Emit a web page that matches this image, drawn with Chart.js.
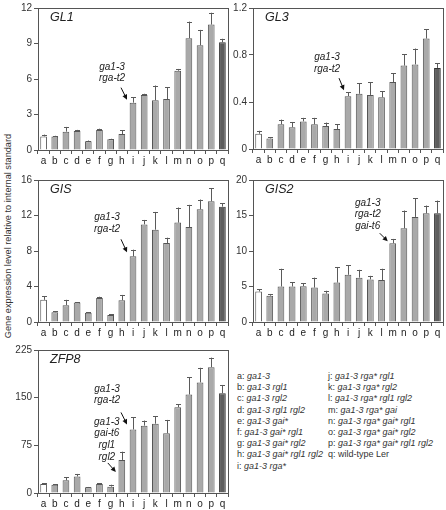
<!DOCTYPE html>
<html>
<head>
<meta charset="utf-8">
<script src="https://cdn.jsdelivr.net/npm/chart.js@4.4.1/dist/chart.umd.min.js"></script>
<style>
  body { margin: 0; background: #fff; width: 446px; height: 510px; position: relative; overflow: hidden;
         font-family: Arial, "Liberation Sans", sans-serif; }
  .panel { position: absolute; }
  #ytitle { position: absolute; left: 8px; top: 236px; width: 300px; margin-left: -150px; text-align: center;
            transform: translateY(-50%) rotate(-90deg); font-size: 9.2px; color: #333; white-space: nowrap; }
  .legend { position: absolute; font-size: 9px; line-height: 11.2px; color: #333; white-space: nowrap; }
  .legend i { font-style: italic; }
</style>
</head>
<body>

<div id="ytitle">Gene expression level relative to internal standard</div>

<div class="panel" style="left:15px;top:0px;width:217px;height:166px"><canvas id="gl1"></canvas></div>
<div class="panel" style="left:230px;top:0px;width:216px;height:165px"><canvas id="gl3"></canvas></div>
<div class="panel" style="left:15px;top:172px;width:217px;height:166px"><canvas id="gis"></canvas></div>
<div class="panel" style="left:230px;top:172px;width:216px;height:166px"><canvas id="gis2"></canvas></div>
<div class="panel" style="left:15px;top:342px;width:217px;height:167px"><canvas id="zfp8"></canvas></div>

<div class="legend" id="legend1" style="left:237px;top:371px"></div>
<div class="legend" id="legend2" style="left:328px;top:371px"></div>

<script>
// categories (genotypes a..q)
const categories = ['a','b','c','d','e','f','g','h','i','j','k','l','m','n','o','p','q'];

// GL1
const gl1Values = [1.15, 1.15, 1.55, 1.6, 0.75, 1.7, 0.9, 1.35, 4.0, 4.65, 4.2, 4.3, 6.7, 9.45, 8.85, 10.6, 9.1];
const gl1Errors = [0.15, 0.05, 0.4, 0.1, 0.05, 0.1, 0.05, 0.3, 0.45, 0.1, 1.25, 1.0, 0.15, 1.4, 1.3, 1.0, 0.3];
const gl1Ticks = [0, 3, 6, 9, 12];

// GL3
const gl3Values = [0.13, 0.09, 0.21, 0.185, 0.235, 0.21, 0.195, 0.17, 0.45, 0.47, 0.46, 0.44, 0.57, 0.71, 0.72, 0.94, 0.69];
const gl3Errors = [0.025, 0.01, 0.04, 0.045, 0.03, 0.055, 0.03, 0.04, 0.035, 0.09, 0.11, 0.05, 0.075, 0.095, 0.135, 0.08, 0.04];
const gl3Ticks = [0, 0.4, 0.8, 1.2];

// GIS
const gisValues = [2.5, 1.1, 1.9, 2.2, 1.05, 2.7, 0.8, 2.45, 7.4, 11.0, 10.4, 8.9, 11.2, 10.7, 12.7, 13.6, 13.0];
const gisErrors = [0.4, 0.1, 0.6, 0.05, 0.05, 0.15, 0.05, 0.6, 0.75, 0.5, 2.0, 0.6, 1.7, 2.5, 1.1, 1.5, 0.4];
const gisTicks = [0, 4, 8, 12, 16];

// GIS2
const gis2Values = [4.3, 3.7, 5.0, 5.0, 5.05, 4.85, 4.0, 5.55, 6.65, 6.25, 6.0, 5.9, 11.1, 13.2, 14.8, 15.3, 15.3];
const gis2Errors = [0.3, 0.25, 2.5, 0.6, 0.4, 1.4, 0.4, 2.2, 1.35, 1.1, 0.5, 1.6, 0.6, 2.5, 2.6, 1.1, 1.8];
const gis2Ticks = [0, 5, 10, 15, 20];

// ZFP8
const zfp8Values = [14, 13, 20, 26, 9, 14, 10, 52, 100, 106, 109, 94, 135, 155, 174, 198, 157];
const zfp8Errors = [1.5, 1, 5, 4, 0.5, 1.5, 3, 13, 19, 8, 12, 21, 5, 27, 23, 15, 13];
const zfp8Ticks = [0, 75, 150, 225];

// genotype legend
const legendLeft = [
  ['a', 'ga1-3'], ['b', 'ga1-3 rgl1'], ['c', 'ga1-3 rgl2'], ['d', 'ga1-3 rgl1 rgl2'], ['e', 'ga1-3 gai*'],
  ['f', 'ga1-3 gai* rgl1'], ['g', 'ga1-3 gai* rgl2'], ['h', 'ga1-3 gai* rgl1 rgl2'], ['i', 'ga1-3 rga*']
];
const legendRight = [
  ['j', 'ga1-3 rga* rgl1'], ['k', 'ga1-3 rga* rgl2'], ['l', 'ga1-3 rga* rgl1 rgl2'], ['m', 'ga1-3 rga* gai'],
  ['n', 'ga1-3 rga* gai* rgl1'], ['o', 'ga1-3 rga* gai* rgl2'], ['p', 'ga1-3 rga* gai* rgl1 rgl2'], ['q', null]
];

function fillLegend(id, rows) {
  const el = document.getElementById(id);
  el.innerHTML = rows.map(r => r[1] ? `${r[0]}: <i>${r[1]}</i>` : `${r[0]}: wild-type Ler`).join('<br>');
}
fillLegend('legend1', legendLeft);
fillLegend('legend2', legendRight);

// bar colours: a = white, b..p = light grey, q = dark grey
const fillColors = categories.map((c, i) => i === 0 ? '#ffffff' : (i === categories.length - 1 ? '#5e5e5e' : '#a9a9a9'));
const borderColors = categories.map((c, i) => i === categories.length - 1 ? '#333' : '#555');

// error bars (upward only) + frame + panel title + arrows
const extrasPlugin = {
  id: 'extras',
  afterDatasetsDraw(chart) {
    const ctx = chart.ctx;
    const cfg = chart.options.plugins.extras;
    const x = chart.scales.x, y = chart.scales.y;
    const meta = chart.getDatasetMeta(0);
    const vals = chart.data.datasets[0].data;
    ctx.save();
    ctx.strokeStyle = '#5a5a5a';
    ctx.lineWidth = 1;
    meta.data.forEach((bar, i) => {
      const top = y.getPixelForValue(vals[i] + cfg.errors[i]);
      const bx = Math.round(bar.x) + 0.5;
      ctx.beginPath();
      ctx.moveTo(bx, bar.y);
      ctx.lineTo(bx, top);
      ctx.moveTo(bx - 2.5, Math.round(top) + 0.5);
      ctx.lineTo(bx + 2.5, Math.round(top) + 0.5);
      ctx.stroke();
    });

    // frame
    const a = chart.chartArea;
    ctx.strokeStyle = '#555';
    ctx.strokeRect(Math.round(a.left) + 0.5, Math.round(a.top) + 0.5, Math.round(a.right - a.left), Math.round(a.bottom - a.top));

    // title
    ctx.fillStyle = '#222';
    ctx.font = 'italic 12.5px Arial, "Liberation Sans", sans-serif';
    ctx.textAlign = 'left';
    ctx.textBaseline = 'middle';
    ctx.fillText(cfg.title, a.left + 12, a.top + 10);

    // annotations with arrows
    ctx.font = 'italic 10px Arial, "Liberation Sans", sans-serif';
    ctx.textAlign = 'center';
    cfg.notes.forEach(n => {
      const idx = categories.indexOf(n.cat);
      const px = x.getPixelForValue(idx);
      const py = y.getPixelForValue(vals[idx]);
      const n0 = n.lines.length;
      n.lines.forEach((t, k) => {
        ctx.fillText(t, px + n.dx, py + n.dy - (n0 - 1 - k) * 11.7);
      });
      const tx = px + n.tail[0], ty = py + n.tail[1];
      const hx = px + n.tip[0], hy = py + n.tip[1];
      const ang = Math.atan2(hy - ty, hx - tx);
      ctx.strokeStyle = '#111';
      ctx.fillStyle = '#111';
      ctx.beginPath();
      ctx.moveTo(tx, ty);
      ctx.lineTo(hx - 3 * Math.cos(ang), hy - 3 * Math.sin(ang));
      ctx.stroke();
      ctx.beginPath();
      ctx.moveTo(hx, hy);
      ctx.lineTo(hx - 5 * Math.cos(ang) + 2.5 * Math.sin(ang), hy - 5 * Math.sin(ang) - 2.5 * Math.cos(ang));
      ctx.lineTo(hx - 5 * Math.cos(ang) - 2.5 * Math.sin(ang), hy - 5 * Math.sin(ang) + 2.5 * Math.cos(ang));
      ctx.closePath();
      ctx.fill();
      ctx.fillStyle = '#222';
    });
    ctx.restore();
  }
};

function makePanel(id, title, values, errors, ticks, notes, rightPad) {
  const ctx = document.getElementById(id).getContext('2d');
  return new Chart(ctx, {
    type: 'bar',
    data: {
      labels: categories,
      datasets: [{
        data: values,
        backgroundColor: fillColors,
        borderColor: borderColors,
        borderWidth: 1,
        barPercentage: 0.6,
        categoryPercentage: 1.0,
      }]
    },
    options: {
      responsive: true,
      maintainAspectRatio: false,
      animation: false,
      events: [],
      layout: { padding: { top: 5, right: rightPad, left: 0, bottom: 0 } },
      plugins: {
        legend: { display: false },
        tooltip: { enabled: false },
        extras: { title: title, errors: errors, notes: notes }
      },
      scales: {
        x: {
          grid: { offset: true, drawOnChartArea: false, tickLength: 4, color: '#555' },
          border: { display: true, color: '#555' },
          ticks: { color: '#222', font: { size: 10, family: 'Arial, "Liberation Sans", sans-serif' }, padding: 1, maxRotation: 0, autoSkip: false },
          afterFit: s => { s.height = 16; }
        },
        y: {
          min: 0,
          max: ticks[ticks.length - 1],
          afterBuildTicks: s => { s.ticks = ticks.map(v => ({ value: v })); },
          grid: { drawOnChartArea: false, tickLength: 4, color: '#555' },
          border: { display: true, color: '#555' },
          ticks: { color: '#333', font: { size: 10, family: 'Arial, "Liberation Sans", sans-serif' }, padding: 2,
                   callback: v => String(v) },
          afterFit: s => { s.width = 23; }
        }
      }
    },
    plugins: [extrasPlugin]
  });
}

const twoLine = ['ga1-3', 'rga-t2'];

makePanel('gl1', 'GL1', gl1Values, gl1Errors, gl1Ticks,
  [{ cat: 'i', lines: twoLine, dx: -21, dy: -24, tail: [-12, -15], tip: [-6, -3] }], 4);
makePanel('gl3', 'GL3', gl3Values, gl3Errors, gl3Ticks,
  [{ cat: 'i', lines: twoLine, dx: -21, dy: -27, tail: [-9, -18], tip: [-4, -6] }], 3);
makePanel('gis', 'GIS', gisValues, gisErrors, gisTicks,
  [{ cat: 'i', lines: twoLine, dx: -26, dy: -27, tail: [-12, -17], tip: [-6, -4] }], 4);
makePanel('gis2', 'GIS2', gis2Values, gis2Errors, gis2Ticks,
  [{ cat: 'm', lines: ['ga1-3', 'rga-t2', 'gai-t6'], dx: -25, dy: -17, tail: [-13, -10], tip: [-5, -2] }], 3);
makePanel('zfp8', 'ZFP8', zfp8Values, zfp8Errors, zfp8Ticks,
  [{ cat: 'i', lines: twoLine, dx: -26, dy: -29, tail: [-12, -17], tip: [-6, -5] },
   { cat: 'h', lines: ['ga1-3', 'gai-t6', 'rgl1', 'rgl2'], dx: -15, dy: -3, tail: [-14, 3], tip: [-6, 12] }], 4);
</script>
</body>
</html>
